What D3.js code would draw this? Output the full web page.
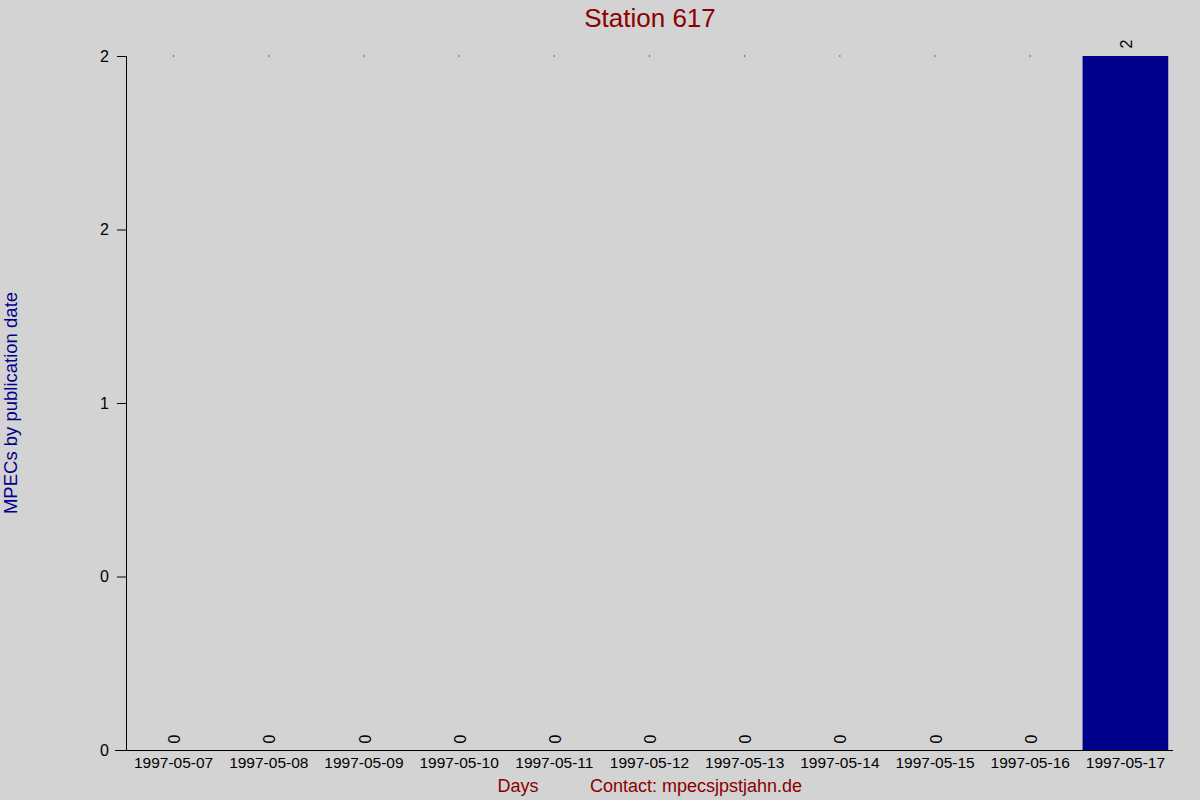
<!DOCTYPE html>
<html>
<head>
<meta charset="utf-8">
<script src="https://cdn.jsdelivr.net/npm/d3@7"></script>
<style>
  body { margin: 0; background: #d3d3d3; }
  svg { font-family: "Liberation Sans", Arial, sans-serif; }
</style>
</head>
<body>
<svg id="chart"></svg>
<script>
const days = ['1997-05-07', '1997-05-08', '1997-05-09', '1997-05-10', '1997-05-11', '1997-05-12',
              '1997-05-13', '1997-05-14', '1997-05-15', '1997-05-16', '1997-05-17'];
const counts = [0, 0, 0, 0, 0, 0, 0, 0, 0, 0, 2];
const ytick_values = [0, 0.5, 1, 1.5, 2];
const ytick_labels = ['0', '0', '1', '2', '2'];

const width = 1200, height = 800;
const margin = {top: 56, right: 27, bottom: 50, left: 126};

const svg = d3.select('#chart')
    .attr('width', width)
    .attr('height', height);

svg.append('rect')
    .attr('width', width).attr('height', height)
    .attr('fill', '#d3d3d3');

const chart = svg.append('g')
    .attr('transform', `translate(${margin.left}, ${margin.top})`);

const inner_width = width - margin.left - margin.right;
const inner_height = height - margin.top - margin.bottom;

const xscale = d3.scaleBand()
    .domain(days)
    .range([0, inner_width])
    .paddingInner(0.1)
    .paddingOuter(0.05);

const yscale = d3.scaleLinear()
    .domain([0, d3.max(counts)])
    .range([inner_height, 0]);

// bars
chart.selectAll('rect.bar')
    .data(counts)
    .join('rect')
    .attr('class', 'bar')
    .attr('x', (d, i) => xscale(days[i]))
    .attr('y', d => yscale(d))
    .attr('width', xscale.bandwidth())
    .attr('height', d => inner_height - yscale(d))
    .attr('fill', '#00008b');

// tiny marks at the top for empty days
chart.selectAll('rect.dot')
    .data(counts.map((d, i) => ({d, i})).filter(o => o.d === 0))
    .join('rect')
    .attr('class', 'dot')
    .attr('x', o => xscale(days[o.i]) + xscale.bandwidth() / 2 - 0.5)
    .attr('y', yscale(d3.max(counts)) - 0.5)
    .attr('width', 1).attr('height', 1)
    .attr('fill', '#000');

// value labels
chart.selectAll('text.val')
    .data(counts)
    .join('text')
    .attr('class', 'val')
    .attr('transform', (d, i) => {
        const cx = xscale(days[i]) + xscale.bandwidth() / 2 + 1;
        const cy = d === 0 ? yscale(0) - 11 : yscale(d) - 12;
        return `translate(${cx}, ${cy}) rotate(-90)`;
    })
    .attr('text-anchor', 'middle')
    .attr('dy', '0.35em')
    .attr('font-size', 16)
    .attr('fill', '#000')
    .text(d => d);

// axes
const xaxis = d3.axisBottom(xscale).tickSize(0).tickPadding(7);
const yaxis = d3.axisLeft(yscale)
    .tickValues(ytick_values)
    .tickFormat((d, i) => ytick_labels[i])
    .tickSize(9)
    .tickPadding(8);

const xg = chart.append('g')
    .attr('transform', `translate(0, ${inner_height})`)
    .call(xaxis);
xg.select('.domain').attr('d', `M-11,0.5H${inner_width}`).attr('stroke', '#000');
xg.selectAll('text').attr('font-size', 15.5).attr('fill', '#000')
    .attr('font-family', '"Liberation Sans", Arial, sans-serif');

const yg = chart.append('g').call(yaxis);
yg.select('.domain').attr('d', `M0.5,0V${inner_height}`).attr('stroke', '#000');
yg.selectAll('text').attr('font-size', 16).attr('fill', '#000')
    .attr('font-family', '"Liberation Sans", Arial, sans-serif');

// title and labels
svg.append('text')
    .attr('x', 650).attr('y', 27)
    .attr('text-anchor', 'middle')
    .attr('font-size', 26)
    .attr('fill', '#8b0000')
    .text('Station 617');

svg.append('text')
    .attr('transform', `translate(17, 403) rotate(-90)`)
    .attr('text-anchor', 'middle')
    .attr('font-size', 18.5)
    .attr('fill', '#00008b')
    .text('MPECs by publication date');

svg.append('text')
    .attr('x', 518).attr('y', 792)
    .attr('text-anchor', 'middle')
    .attr('font-size', 18)
    .attr('fill', '#8b0000')
    .text('Days');

svg.append('text')
    .attr('x', 590).attr('y', 792)
    .attr('font-size', 18)
    .attr('fill', '#8b0000')
    .text('Contact: mpecsjpstjahn.de');
</script>
</body>
</html>
